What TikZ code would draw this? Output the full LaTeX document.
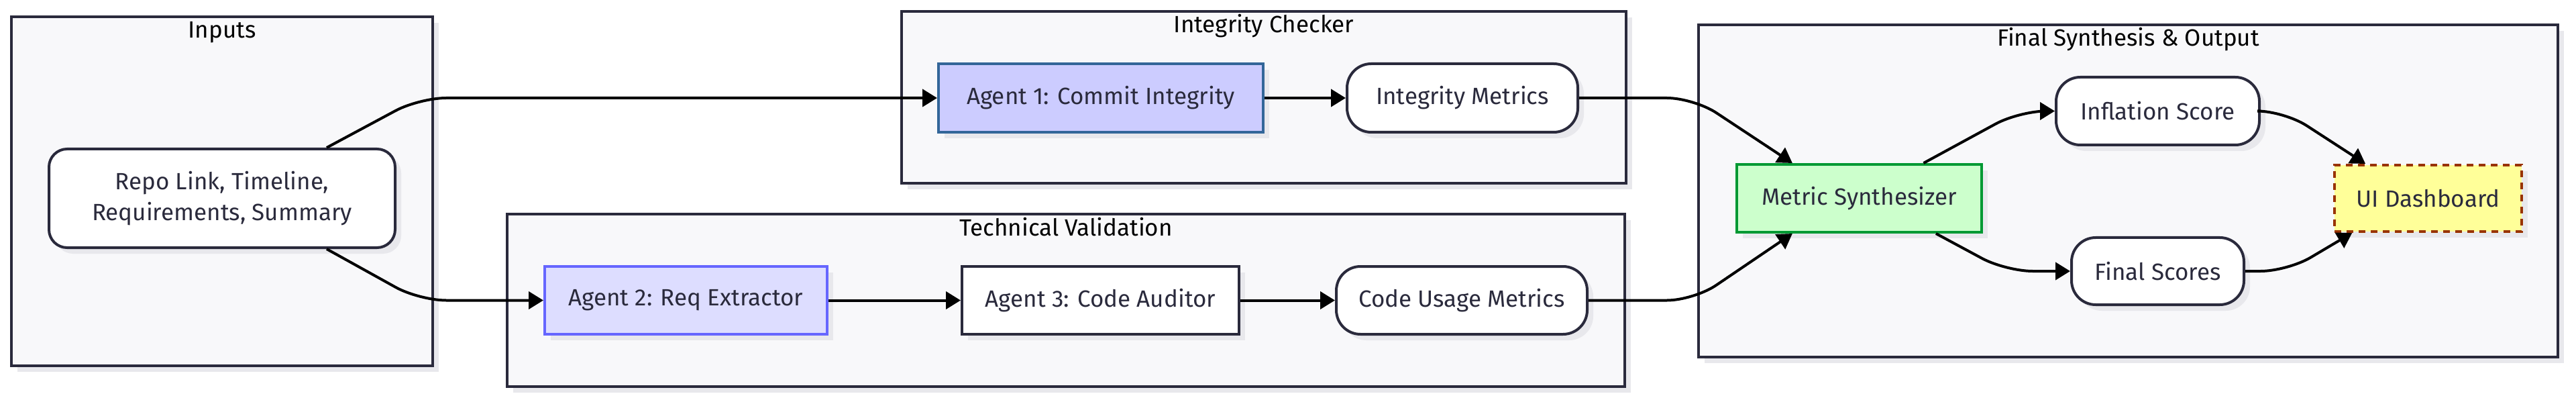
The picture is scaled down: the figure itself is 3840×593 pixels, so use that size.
\documentclass[tikz,border=0pt]{standalone}
\usepackage{fontspec}
\setmainfont{Fira Sans}
\usetikzlibrary{arrows.meta,shadows,calc}
\definecolor{clfill}{HTML}{F8F8FA}
\definecolor{clline}{HTML}{2A2A3C}
\definecolor{txt}{HTML}{2A2A3C}
\definecolor{shad}{HTML}{E8E8EC}
\definecolor{aonefill}{HTML}{CCCCFF}
\definecolor{aoneline}{HTML}{336699}
\definecolor{atwofill}{HTML}{DDDDFF}
\definecolor{atwoline}{HTML}{6666FF}
\definecolor{msfill}{HTML}{CCFFCC}
\definecolor{msline}{HTML}{009933}
\definecolor{uifill}{HTML}{FFFF99}
\definecolor{uiline}{HTML}{993300}
\tikzset{
  shd/.style={drop shadow={shadow xshift=4.5pt,shadow yshift=-4.5pt,fill=shad,opacity=1}},
  cluster/.style={draw=clline,fill=clfill,line width=2pt,shd,inner sep=0pt},
  cltitle/.style={anchor=base,font=\fontsize{17.5}{21}\selectfont,text=black},
  box/.style={draw=clline,fill=white,line width=2pt,shd,inner sep=0pt,align=center,
    text=txt,font=\fontsize{17.5}{23}\selectfont},
  rbox/.style={box,rounded corners=18pt},
  conn/.style={draw=black,line width=2pt,rounded corners=20pt,-{Triangle[length=11pt,width=13pt]}}
}
\begin{document}
\begin{tikzpicture}[x=0.5pt,y=-0.5pt]
\useasboundingbox (0,0) rectangle (3840,593);
% clusters
\node[cluster,minimum width=314pt,minimum height=260pt] (cin) at (331,285) {};
\node[cltitle] (tin) at ([yshift=-17pt]cin.north) {Inputs};
\node[cluster,minimum width=540pt,minimum height=128pt] (cic) at (1884,145) {};
\node[cltitle] (tic) at ([yshift=-17pt]cic.north) {Integrity Checker};
\node[cluster,minimum width=833pt,minimum height=128.5pt] (ctv) at (1589,447.5) {};
\node[cltitle] (ttv) at ([yshift=-17pt]ctv.north) {Technical Validation};
\node[cluster,minimum width=640.5pt,minimum height=247.5pt] (cfs) at (3172.5,284.5) {};
\node[cltitle] (tfs) at ([yshift=-17pt]cfs.north) {Final Synthesis \& Output};
% nodes
\node[box,rounded corners=13.5pt,minimum width=258pt,minimum height=73.5pt] (repo) at (331,295.5) {Repo Link, Timeline,\\Requirements, Summary};
\node[box,fill=aonefill,draw=aoneline,minimum width=242pt,minimum height=51pt] (a1) at (1641,146) {Agent 1: Commit Integrity};
\node[rbox,minimum width=172pt,minimum height=51pt] (im) at (2180,146) {Integrity Metrics};
\node[box,fill=atwofill,draw=atwoline,minimum width=210.5pt,minimum height=50.5pt] (a2) at (1022.5,447.5) {Agent 2: Req Extractor};
\node[box,minimum width=206.5pt,minimum height=50.5pt] (a3) at (1640.5,447.5) {Agent 3: Code Auditor};
\node[rbox,minimum width=187pt,minimum height=50.5pt] (cu) at (2179,447.5) {Code Usage Metrics};
\node[box,fill=msfill,draw=msline,minimum width=182.5pt,minimum height=50.5pt] (ms) at (2771.5,295.5) {Metric Synthesizer};
\node[rbox,minimum width=151.5pt,minimum height=50.5pt] (inf) at (3216.5,165.5) {Inflation Score};
\node[rbox,minimum width=128.5pt,minimum height=50pt] (fs) at (3216.5,404) {Final Scores};
\node[box,fill=uifill,draw=uiline,dash pattern=on 5pt off 4pt,minimum width=139.5pt,minimum height=49.5pt] (ui) at (3619.5,295.5) {UI Dashboard};
% connectors
\draw[conn] ($(repo.north west)!0.8!(repo.north east)$) -- (625,146) -- (a1.west);
\draw[conn] ($(repo.south west)!0.8!(repo.south east)$) -- (625,447.5) -- (a2.west);
\draw[conn] (a1) -- (im);
\draw[conn] (a2) -- (a3);
\draw[conn] (a3) -- (cu);
\draw[conn] (im.east) -- (2525,146) -- ($(ms.north west)!0.23!(ms.north east)$);
\draw[conn] (cu.east) -- (2525,447.5) -- ($(ms.south west)!0.23!(ms.south east)$);
\draw[conn] ($(ms.north west)!0.76!(ms.north east)$) -- (3010,165.5) -- (inf.west);
\draw[conn] ($(ms.south west)!0.81!(ms.south east)$) -- (2990,404) -- (fs.west);
\draw[conn] (inf.east) -- (3405,165.5) -- ($(ui.north west)!0.17!(ui.north east)$);
\draw[conn] (fs.east) -- (3410,404) -- ($(ui.south west)!0.10!(ui.south east)$);
\end{tikzpicture}
\end{document}
